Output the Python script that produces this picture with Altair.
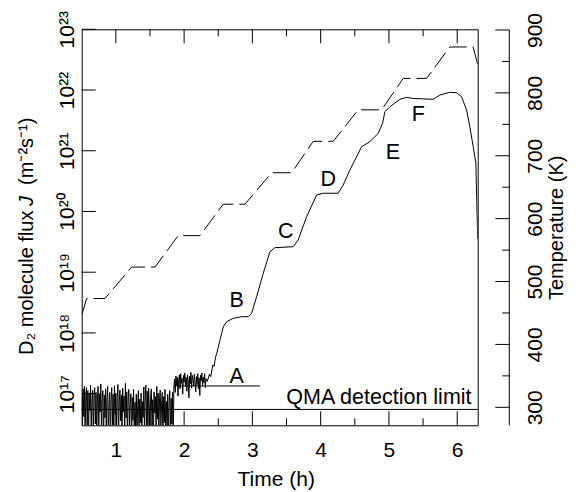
import altair as alt
import pandas as pd

FONT = "Liberation Sans"
W, H = 396, 396

# ---------------- data ----------------
# noisy D2 signal below / around the QMA detection limit (time h, log10 flux)
noise_time = [
    0.50, 0.51, 0.52, 0.53, 0.54, 0.55, 0.56, 0.57, 0.58, 0.59,
    0.60, 0.61, 0.62, 0.63, 0.64, 0.65, 0.66, 0.67, 0.68, 0.69,
    0.70, 0.71, 0.72, 0.73, 0.74, 0.75, 0.76, 0.77, 0.78, 0.79,
    0.80, 0.81, 0.82, 0.83, 0.84, 0.85, 0.86, 0.87, 0.88, 0.89,
    0.90, 0.91, 0.92, 0.93, 0.94, 0.95, 0.96, 0.97, 0.98, 0.99,
    1.00, 1.01, 1.02, 1.03, 1.04, 1.05, 1.06, 1.07, 1.08, 1.09,
    1.10, 1.11, 1.12, 1.13, 1.14, 1.15, 1.16, 1.17, 1.18, 1.19,
    1.20, 1.21, 1.22, 1.23, 1.24, 1.25, 1.26, 1.27, 1.28, 1.29,
    1.30, 1.31, 1.32, 1.33, 1.34, 1.35, 1.36, 1.37, 1.38, 1.39,
    1.40, 1.41, 1.42, 1.43, 1.44, 1.45, 1.46, 1.47, 1.48, 1.49,
    1.50, 1.51, 1.52, 1.53, 1.54, 1.55, 1.56, 1.57, 1.58, 1.59,
    1.60, 1.61, 1.62, 1.63, 1.64, 1.65, 1.66, 1.67, 1.68, 1.69,
    1.70, 1.71, 1.72, 1.73, 1.74, 1.75, 1.76, 1.77, 1.78, 1.79,
    1.80, 1.81, 1.82, 1.83, 1.84,
    1.85, 1.86, 1.87, 1.88, 1.89, 1.90, 1.91, 1.92, 1.93, 1.94,
    1.95, 1.96, 1.97, 1.98, 1.99, 2.00, 2.01, 2.02, 2.03, 2.04,
    2.05, 2.06, 2.07, 2.08, 2.09, 2.10, 2.11, 2.12, 2.13, 2.14,
    2.15, 2.16, 2.17, 2.18, 2.19, 2.20, 2.21, 2.22, 2.23, 2.24,
    2.25, 2.26, 2.27, 2.28, 2.29, 2.30, 2.31, 2.32]
noise_log10 = [
    16.95, 16.40, 17.08, 16.62, 17.12, 16.30, 16.98, 17.10, 16.45, 17.05,
    16.25, 17.00, 16.72, 17.14, 16.35, 16.90, 17.06, 16.28, 16.96, 17.10,
    16.50, 17.02, 16.30, 16.88, 17.12, 16.42, 17.00, 16.70, 17.16, 16.33,
    16.92, 17.05, 16.22, 16.98, 16.60, 17.08, 16.38, 16.94, 17.12, 16.30,
    16.78, 17.02, 16.26, 16.90, 17.10, 16.48, 16.99, 16.32, 17.13, 16.66,
    17.01, 16.40, 16.93, 17.15, 16.31, 16.86, 17.06, 16.55, 16.98, 16.24,
    17.09, 16.70, 16.96, 16.36, 17.17, 16.60, 17.03, 16.30, 16.91, 17.07,
    16.46, 16.82, 17.00, 16.21, 16.94, 16.56, 17.07, 16.31, 16.86, 16.42,
    16.99, 16.26, 16.81, 17.05, 16.33, 16.91, 16.52, 17.01, 16.22, 16.87,
    16.61, 17.11, 16.36, 16.96, 17.14, 16.41, 17.04, 16.30, 17.09, 16.78,
    16.28, 16.97, 17.08, 16.44, 16.90, 16.27, 17.03, 16.68, 16.95, 16.34,
    17.12, 16.58, 17.01, 16.29, 16.92, 17.06, 16.47, 16.84, 17.02, 16.23,
    16.95, 16.52, 17.07, 16.32, 16.87, 16.41, 16.99, 16.26, 16.83, 17.05,
    16.31, 16.92, 16.50, 17.02, 16.20,
    17.12, 17.24, 17.02, 17.29, 17.14, 17.27, 16.96, 17.21, 17.31, 17.08,
    17.33, 17.17, 17.25, 16.99, 17.30, 17.19, 17.34, 17.11, 17.27, 17.04,
    17.31, 17.21, 16.93, 17.29, 17.16, 17.35, 17.09, 17.30, 17.24, 17.13,
    17.32, 17.19, 17.03, 17.28, 17.15, 17.33, 17.08, 17.26, 16.97, 17.30,
    17.21, 17.34, 17.12, 17.27, 17.18, 17.33, 17.10, 17.25]
# desorption stages A-F
rise_time = [2.34, 2.37, 2.39, 2.42, 2.44, 2.46, 2.48, 2.525, 2.573, 2.623,
             2.72, 2.843, 2.939, 2.989, 3.062, 3.159, 3.257, 3.33, 3.598, 3.671,
             3.794, 3.941, 4.037, 4.257, 4.33, 4.428, 4.60, 4.721, 4.843, 4.907,
             4.941, 5.014, 5.16, 5.258, 5.355, 5.648, 5.746, 5.892, 5.99, 6.064,
             6.137, 6.185, 6.234, 6.273, 6.30]
rise_log10 = [17.20, 17.32, 17.28, 17.47, 17.45, 17.60, 17.67, 17.88, 18.10, 18.185,
              18.241, 18.268, 18.268, 18.324, 18.597, 18.982, 19.338, 19.404, 19.42, 19.531,
              19.914, 20.271, 20.30, 20.30, 20.436, 20.683, 21.067, 21.149, 21.287, 21.452,
              21.643, 21.725, 21.847, 21.88, 21.861, 21.847, 21.918, 21.963, 21.956, 21.89,
              21.671, 21.396, 21.067, 20.794, 19.55]

# sample temperature (K)
temp_time = [0.5, 0.573, 0.841, 1.232, 1.573, 1.914, 2.232, 2.573, 2.891, 3.282,
             3.575, 3.891, 4.184, 4.55, 4.892, 5.209, 5.551, 5.892, 6.233, 6.30]
temp_K = [447, 473, 473, 523, 523, 573, 573, 623, 623, 673,
          673, 723, 723, 773, 773, 823, 823, 873, 873, 845]

detection_limit = [5.5e16]
plateau_A_level = [1.34e17]
plateau_A_start = [1.85]
plateau_A_end = [3.11]

stage_labels = ["A", "B", "C", "D", "E", "F"]
stage_label_time = [2.77, 2.77, 3.49, 4.11, 5.06, 5.43]
stage_label_log10 = [17.28, 18.53, 19.66, 20.52, 20.96, 21.59]

qma_text = ["QMA detection limit"]
qma_time = [6.21]
qma_log10 = [16.83]

time_major = [1, 2, 3, 4, 5, 6]
time_minor = [1.5, 2.5, 3.5, 4.5, 5.5]
flux_exponents = [17, 18, 19, 20, 21, 22, 23]
temp_major = [300, 400, 500, 600, 700, 800, 900]
temp_minor = [350, 450, 550, 650, 750, 850]

# ---------------- tables ----------------
flux_df = pd.DataFrame({"t": noise_time + rise_time,
                        "J": [10 ** v for v in noise_log10 + rise_log10]})
temp_df = pd.DataFrame({"t": temp_time, "T": temp_K})
flux_ticks = [float(10 ** e) for e in flux_exponents]

SUP = str.maketrans("0123456789", "⁰¹²³⁴⁵⁶⁷⁸⁹")
label_expr = " : ".join(
    f"round(log(datum.value)/LN10) == {e} ? '10{str(e).translate(SUP)}'" for e in flux_exponents
) + " : ''"

x_scale = alt.Scale(domain=[0.5, 6.3], nice=False, zero=False)
y_scale = alt.Scale(type="log", domain=[10 ** 16.479, 1e23], nice=False)
T_scale = alt.Scale(domain=[271.4, 901.1], nice=False, zero=False)

# secondary layers: same scales, axis left unspecified so the main axis definitions win
X0 = alt.X("t:Q", scale=x_scale)
Y0 = alt.Y("J:Q", scale=y_scale)
T0 = alt.Y("T:Q", scale=T_scale)

# ---------------- flux layers ----------------
flux_line = alt.Chart(flux_df).mark_line(color="black", strokeWidth=1, clip=True).encode(
    x=alt.X("t:Q", scale=x_scale,
            axis=alt.Axis(values=time_major, format="d", title="Time  (h)",
                          labelFontSize=21, labelBaseline="alphabetic", labelPadding=31,
                          titleFontSize=21, titleFontWeight="normal", titleX=194, titleY=59.7,
                          titleBaseline="alphabetic", titleAlign="center")),
    y=alt.Y("J:Q", scale=y_scale,
            axis=alt.Axis(orient="left", values=flux_ticks, labelExpr=label_expr, title="",
                          labelFontSize=21, labelAngle=270, labelAlign="center",
                          labelBaseline="alphabetic", labelPadding=8.5, labelOverlap=False)),
)

limit_rule = alt.Chart(pd.DataFrame({"J": detection_limit})).mark_rule(
    color="black", strokeWidth=1).encode(y=Y0)

a_rule = alt.Chart(pd.DataFrame({"t": plateau_A_start, "t2": plateau_A_end, "J": plateau_A_level})
                   ).mark_rule(color="black", strokeWidth=1).encode(x=X0, x2="t2:Q", y=Y0)

tick_major_df = pd.DataFrame({"t": time_major})
tick_minor_df = pd.DataFrame({"t": time_minor})
bottom_major = alt.Chart(tick_major_df).mark_rule(color="black").encode(
    x=X0, y=alt.value(H), y2=alt.value(H - 14))
bottom_minor = alt.Chart(tick_minor_df).mark_rule(color="black").encode(
    x=X0, y=alt.value(H), y2=alt.value(H - 7))
top_major = alt.Chart(tick_major_df).mark_rule(color="black").encode(
    x=X0, y=alt.value(0), y2=alt.value(14))
top_minor = alt.Chart(tick_minor_df).mark_rule(color="black").encode(
    x=X0, y=alt.value(0), y2=alt.value(7))
left_ticks = alt.Chart(pd.DataFrame({"J": flux_ticks})).mark_rule(color="black").encode(
    y=Y0, x=alt.value(0), x2=alt.value(14))

stage_df = pd.DataFrame({"t": stage_label_time,
                         "J": [10 ** v for v in stage_label_log10],
                         "label": stage_labels})
stage_text = alt.Chart(stage_df).mark_text(
    font=FONT, fontSize=21.5, color="black", align="center", baseline="middle").encode(
    x=X0, y=Y0, text="label:N")

qma_df = pd.DataFrame({"t": qma_time, "J": [10 ** v for v in qma_log10], "label": qma_text})
qma = alt.Chart(qma_df).mark_text(
    font=FONT, fontSize=21.5, color="black", align="right", baseline="alphabetic").encode(
    x=X0, y=Y0, text="label:N")

one = pd.DataFrame({"k": [0]})
title_kw = dict(font=FONT, fontSize=20, color="black", angle=270, align="left", baseline="alphabetic")
ytitle1 = alt.Chart(one).mark_text(text="D₂ molecule flux", **title_kw).encode(
    x=alt.value(-48.4), y=alt.value(325.7))
ytitle2 = alt.Chart(one).mark_text(text="J", fontStyle="italic", **title_kw).encode(
    x=alt.value(-48.4), y=alt.value(176.7))
ytitle3 = alt.Chart(one).mark_text(text="(m⁻²s⁻¹)", **title_kw).encode(
    x=alt.value(-48.4), y=alt.value(155.6))

flux_layer = alt.layer(flux_line, limit_rule, a_rule, bottom_major, bottom_minor, top_major,
                       top_minor, left_ticks, stage_text, qma, ytitle1, ytitle2, ytitle3)

# ---------------- temperature layers ----------------
temp_line = alt.Chart(temp_df).mark_line(
    color="black", strokeWidth=1, strokeDash=[18, 6], clip=True).encode(
    x=X0,
    y=alt.Y("T:Q", scale=T_scale,
            axis=alt.Axis(orient="right", values=temp_major, format="d",
                          title="Temperature  (K)", labelFontSize=21, labelAngle=270,
                          labelAlign="center", labelBaseline="alphabetic", labelPadding=64,
                          labelOverlap=False, titleFontSize=20, titleFontWeight="normal",
                          titleAngle=270, titleX=84.5, titleY=H / 2, titleAlign="center",
                          titleBaseline="alphabetic")),
)
RX = W + 31.6
temp_axis_line = alt.Chart(pd.DataFrame({"T": [temp_major[-1]]})).mark_rule(color="black").encode(
    y=T0, y2=alt.value(H), x=alt.value(RX))
temp_major_ticks = alt.Chart(pd.DataFrame({"T": temp_major})).mark_rule(color="black").encode(
    y=T0, x=alt.value(RX - 14), x2=alt.value(RX))
temp_minor_ticks = alt.Chart(pd.DataFrame({"T": temp_minor})).mark_rule(color="black").encode(
    y=T0, x=alt.value(RX - 7), x2=alt.value(RX))

temp_layer = alt.layer(temp_line, temp_axis_line, temp_major_ticks, temp_minor_ticks)

chart = alt.layer(flux_layer, temp_layer).resolve_scale(y="independent").properties(
    width=W, height=H,
    padding={"left": 73.7, "top": 21.3, "right": 90.3, "bottom": 64.7},
    autosize=alt.AutoSizeParams(type="none"),
    background="white",
).configure_view(stroke="black", strokeWidth=1).configure_axis(
    labelFont=FONT, titleFont=FONT, labelColor="black", titleColor="black",
    grid=False, domain=False, ticks=False, tickSize=0,
)

chart.save("out.html", embed_options={"renderer": "svg", "actions": False})
